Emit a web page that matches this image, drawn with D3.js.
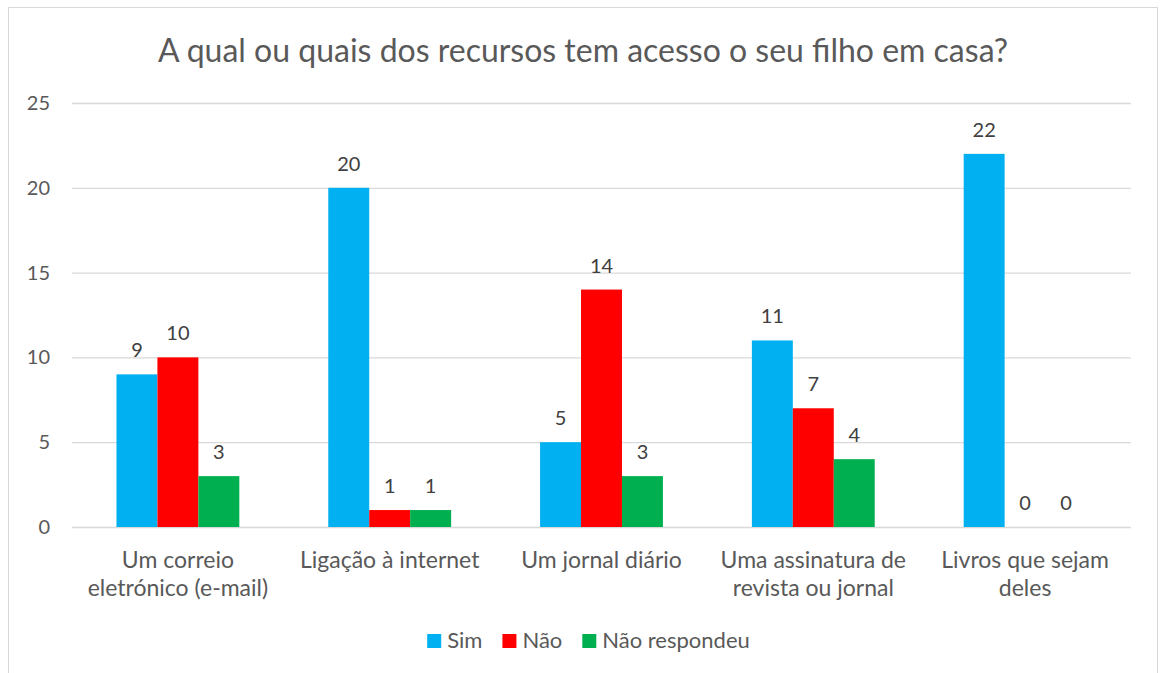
<!DOCTYPE html>
<html>
<head>
<meta charset="utf-8">
<script src="https://cdn.jsdelivr.net/npm/d3@7"></script>
<style>
  body { margin: 0; background: #fff; }
  svg { display: block; font-family: Lato, "Open Sans", sans-serif; }
</style>
</head>
<body>
<svg id="chart" width="1160" height="673"></svg>
<script>
const title = "A qual ou quais dos recursos tem acesso o seu filho em casa?";
const categories = [
    "Um correio\neletrónico (e-mail)",
    "Ligação à internet",
    "Um jornal diário",
    "Uma assinatura de\nrevista ou jornal",
    "Livros que sejam\ndeles"
];
const seriesNames = ["Sim", "Não", "Não respondeu"];
const sim = [9, 20, 5, 11, 22];
const nao = [10, 1, 14, 7, 0];
const naoRespondeu = [3, 1, 3, 4, 0];
const yTicks = [0, 5, 10, 15, 20, 25];
const seriesColors = ["#00B0F0", "#FF0000", "#00B050"];

const svg = d3.select("#chart");
const plot = { left: 72, right: 1131, top: 103, bottom: 527 };

// chart frame
svg.append("rect")
    .attr("x", 8.5).attr("y", 7.5)
    .attr("width", 1149).attr("height", 720)
    .attr("fill", "#fff")
    .attr("stroke", "#D9D9D9");

// title
svg.append("text")
    .attr("x", 583).attr("y", 62)
    .attr("text-anchor", "middle")
    .attr("font-size", 32)
    .attr("fill", "#595959")
    .text(title);

const y = d3.scaleLinear().domain([0, 25]).range([plot.bottom, plot.top]);
const x0 = d3.scaleBand().domain(categories).range([plot.left, plot.right]).padding(0);
const gap = x0.bandwidth() * 0.21;
const x1 = d3.scaleBand().domain(seriesNames).range([gap, x0.bandwidth() - gap]).padding(0);
const color = d3.scaleOrdinal().domain(seriesNames).range(seriesColors);

//gridlines + y labels
const yAxis = svg.append("g")
    .attr("transform", `translate(${plot.left},0)`)
    .call(d3.axisLeft(y).tickValues(yTicks).tickSize(-(plot.right - plot.left)).tickPadding(22));
yAxis.select(".domain").remove();
yAxis.selectAll("line").attr("stroke", "#D9D9D9").attr("stroke-width", 1.3);
yAxis.selectAll("text")
    .attr("font-size", 20)
    .attr("font-family", "Lato, sans-serif")
    .attr("fill", "#595959");

// table rows for bars
const rows = categories.map((c, i) => ({
    category: c,
    values: [sim[i], nao[i], naoRespondeu[i]].map((v, j) => ({ key: seriesNames[j], value: v }))
}));

const groups = svg.append("g").selectAll("g").data(rows)
    .enter().append("g")
    .attr("transform", d => `translate(${x0(d.category)},0)`);

groups.selectAll("rect").data(d => d.values)
    .enter().append("rect")
    .attr("x", d => x1(d.key))
    .attr("y", d => y(d.value))
    .attr("width", x1.bandwidth())
    .attr("height", d => y(0) - y(d.value))
    .attr("fill", d => color(d.key));

//value labels
groups.selectAll("text").data(d => d.values)
    .enter().append("text")
    .attr("x", d => x1(d.key) + x1.bandwidth() / 2)
    .attr("y", d => y(d.value) - 17)
    .attr("text-anchor", "middle")
    .attr("font-size", 20)
    .attr("fill", "#404040")
    .text(d => d.value);

// category labels
svg.append("g").selectAll("text").data(categories)
    .enter().append("text")
    .attr("text-anchor", "middle")
    .attr("font-size", 23)
    .attr("fill", "#595959")
    .each(function (d) {
        const cx = x0(d) + x0.bandwidth() / 2;
        d.split("\n").forEach((line, k) => {
            d3.select(this).append("tspan")
                .attr("x", cx)
                .attr("y", 568 + k * 28)
                .text(line);
        });
    });

// legend
const legend = svg.append("g");
let lx = 0;
seriesNames.forEach((name, i) => {
    const item = legend.append("g").attr("transform", `translate(${lx},0)`);
    item.append("rect")
        .attr("x", 0).attr("y", 634)
        .attr("width", 14).attr("height", 14)
        .attr("fill", seriesColors[i]);
    const t = item.append("text")
        .attr("x", 20).attr("y", 648)
        .attr("font-size", 22)
        .attr("fill", "#595959")
        .text(name);
    lx += 20 + t.node().getComputedTextLength() + 20;
});
const legendWidth = lx - 20;
legend.attr("transform", `translate(${588.5 - legendWidth / 2},0)`);
</script>
</body>
</html>
